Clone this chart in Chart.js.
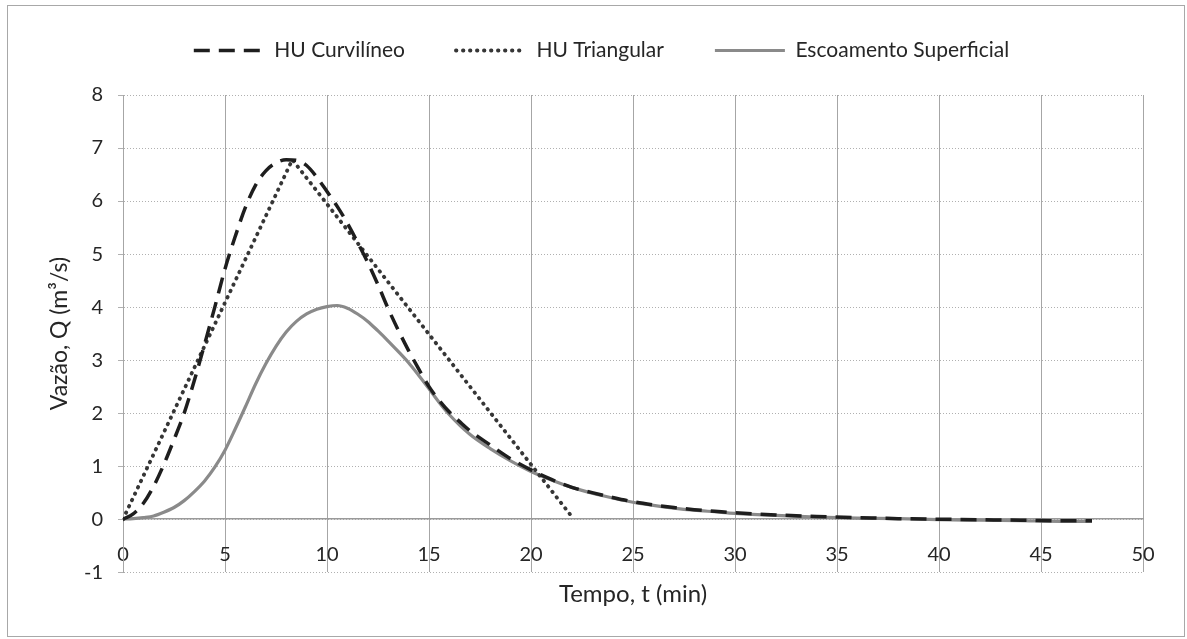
<!DOCTYPE html>
<html lang="pt">
<head>
<meta charset="utf-8">
<title>Hidrogramas</title>
<script src="https://cdn.jsdelivr.net/npm/chart.js@4.4.1/dist/chart.umd.min.js"></script>
<style>
  html, body { margin: 0; padding: 0; background: #fff; }
  #wrap { position: relative; width: 1187px; height: 639px; }
  #moldura { position: absolute; left: 7px; top: 5px; width: 1176px; height: 630px; border: 1px solid #a8a8a8; pointer-events: none; }
</style>
</head>
<body>
<div id="wrap">
  <canvas id="grafico"></canvas>
  <div id="moldura"></div>
</div>
<script>
// HU Curvilíneo (tracejado)
const tempoCurv = [0, 0.5, 1, 1.5, 2, 2.5, 3, 3.5, 4, 4.5, 5, 5.5, 6, 6.5, 7, 7.5, 8, 8.5, 9, 9.5,
  10, 10.5, 11, 11.5, 12, 12.5, 13, 13.5, 14, 14.5, 15, 15.5, 16, 16.5, 17, 18, 19, 20, 21, 22, 23,
  24, 25, 26, 27, 28, 29, 30, 32, 34, 36, 38, 40, 42, 44, 46, 47.5];
const vazaoCurv = [0, 0.1, 0.3, 0.62, 1.03, 1.5, 2.0, 2.62, 3.3, 4.0, 4.72, 5.33, 5.88, 6.3, 6.57, 6.72, 6.78, 6.77, 6.67, 6.45,
  6.18, 5.9, 5.58, 5.22, 4.84, 4.42, 3.97, 3.56, 3.18, 2.83, 2.5, 2.24, 2.02, 1.84, 1.67, 1.4, 1.14, 0.93, 0.75, 0.6, 0.5,
  0.41, 0.33, 0.27, 0.22, 0.18, 0.15, 0.12, 0.08, 0.05, 0.03, 0.01, 0, -0.01, -0.02, -0.03, -0.03];

// HU Triangular (pontilhado)
const tempoTri = [0, 8.3, 22.1];
const vazaoTri = [0, 6.78, 0];

// Escoamento Superficial (contínuo)
const tempoEsc = [0, 0.5, 1, 1.5, 2, 2.5, 3, 3.5, 4, 4.5, 5, 5.5, 6, 6.5, 7, 7.5, 8, 8.5, 9, 9.5,
  10, 10.5, 11, 11.5, 12, 12.5, 13, 13.5, 14, 14.5, 15, 15.5, 16, 17, 18, 19, 20, 21, 22, 23,
  24, 25, 26, 27, 28, 29, 30, 32, 34, 36, 38, 40, 42, 44, 46, 47.5];
const vazaoEsc = [0, 0.01, 0.03, 0.06, 0.13, 0.22, 0.35, 0.52, 0.72, 0.98, 1.3, 1.7, 2.12, 2.55, 2.93, 3.26, 3.53, 3.73, 3.87, 3.96,
  4.01, 4.03, 3.98, 3.87, 3.73, 3.55, 3.36, 3.16, 2.95, 2.71, 2.46, 2.2, 1.97, 1.6, 1.33, 1.1, 0.9, 0.74, 0.6, 0.49,
  0.4, 0.32, 0.26, 0.21, 0.17, 0.14, 0.11, 0.07, 0.04, 0.02, 0.01, -0.01, -0.02, -0.03, -0.04, -0.04];

const ticksTempo = [0, 5, 10, 15, 20, 25, 30, 35, 40, 45, 50];
const ticksVazao = [-1, 0, 1, 2, 3, 4, 5, 6, 7, 8];

const fonte = "Lato, 'Open Sans', sans-serif";
const corTexto = '#262626';

function pontos(xs, ys) {
  return xs.map((x, i) => ({ x: x, y: ys[i] }));
}

// espaço extra entre a legenda e a área do gráfico
const espacoLegenda = {
  id: 'espacoLegenda',
  afterInit(chart) {
    const fitOriginal = chart.legend.fit;
    chart.legend.fit = function () {
      fitOriginal.call(this);
      this.height += 24;
    };
  }
};

const eixoX = {
  min: ticksTempo[0],
  max: ticksTempo[ticksTempo.length - 1],
  stepSize: ticksTempo[1] - ticksTempo[0]
};

new Chart(document.getElementById('grafico'), {
  type: 'line',
  data: {
    datasets: [
      {
        label: 'HU Curvilíneo',
        data: pontos(tempoCurv, vazaoCurv),
        borderColor: '#1e1e1e',
        borderWidth: 3.5,
        borderDash: [16, 9],
        cubicInterpolationMode: 'monotone',
        pointRadius: 0,
        fill: false
      },
      {
        label: 'HU Triangular',
        data: pontos(tempoTri, vazaoTri),
        borderColor: '#363636',
        borderWidth: 3.8,
        borderDash: [0.5, 6.5],
        borderCapStyle: 'round',
        tension: 0,
        pointRadius: 0,
        fill: false
      },
      {
        label: 'Escoamento Superficial',
        data: pontos(tempoEsc, vazaoEsc),
        borderColor: '#8a8a8a',
        borderWidth: 3.2,
        cubicInterpolationMode: 'monotone',
        pointRadius: 0,
        fill: false
      }
    ]
  },
  options: {
    responsive: true,
    maintainAspectRatio: false,
    animation: false,
    layout: { padding: { left: 60, right: 44, top: -11, bottom: 0 } },
    plugins: {
      tooltip: { enabled: false },
      legend: {
        position: 'top',
        labels: {
          usePointStyle: true,
          pointStyle: 'line',
          pointStyleWidth: 70,
          boxWidth: 70,
          padding: 51,
          color: corTexto,
          font: { family: fonte, size: 21 },
          generateLabels(chart) {
            return chart.data.datasets.map((ds, i) => ({
              text: ds.label,
              datasetIndex: i,
              hidden: false,
              fillStyle: ds.borderColor,
              strokeStyle: ds.borderColor,
              lineWidth: ds.borderWidth,
              lineDash: ds.borderDash || [],
              lineCap: ds.borderCapStyle || 'butt',
              pointStyle: 'line',
              fontColor: corTexto
            }));
          }
        }
      }
    },
    scales: {
      x: {
        type: 'linear',
        position: 'bottom',
        min: eixoX.min,
        max: eixoX.max,
        ticks: { display: false, stepSize: eixoX.stepSize },
        grid: { color: '#a6a6a6', lineWidth: 1, drawTicks: false },
        border: { display: false },
        title: {
          display: true,
          text: 'Tempo, t (min)',
          color: corTexto,
          font: { family: fonte, size: 24 },
          padding: { top: 8, bottom: 30 }
        }
      },
      x2: {
        type: 'linear',
        position: { y: 0 },
        min: eixoX.min,
        max: eixoX.max,
        ticks: { stepSize: eixoX.stepSize, padding: 23, color: corTexto, font: { family: fonte, size: 20 } },
        grid: { display: false, drawTicks: false },
        border: { display: true, color: '#9a9a9a', width: 1.5 }
      },
      y: {
        type: 'linear',
        min: ticksVazao[0],
        max: ticksVazao[ticksVazao.length - 1],
        ticks: { stepSize: ticksVazao[1] - ticksVazao[0], padding: 15, color: corTexto, font: { family: fonte, size: 20 } },
        grid: { color: '#b0b0b0', lineWidth: 1, drawTicks: true, tickLength: 5 },
        border: { display: true, color: '#a6a6a6', dash: [1, 2] },
        title: {
          display: true,
          text: 'Vazão, Q (m³/s)',
          color: corTexto,
          font: { family: fonte, size: 23 },
          padding: { top: -14, bottom: 0 }
        },
        afterFit(scale) {
          scale.width = 63;
        }
      }
    }
  },
  plugins: [espacoLegenda]
});
</script>
</body>
</html>
